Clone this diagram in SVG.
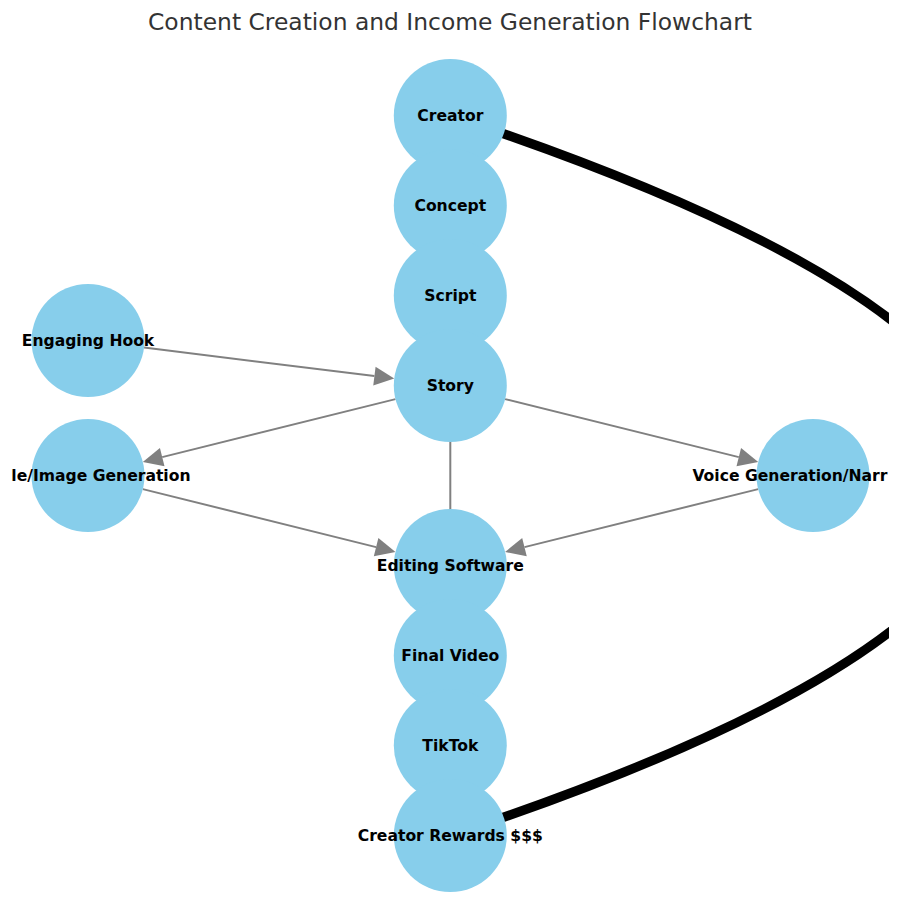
<svg xmlns="http://www.w3.org/2000/svg" width="900" height="923" viewBox="0 0 900 923">
<style>
.node circle{fill:#87CEEB}
.node text{font-family:"DejaVu Sans",Verdana,sans-serif;font-weight:bold;font-size:15.6px;fill:#000;text-anchor:middle}
.edge{stroke:#808080;stroke-width:2;fill:none}
.title{font-family:"DejaVu Sans",Verdana,sans-serif;font-size:23.4px;fill:#333;text-anchor:middle}
</style>
<defs>
<clipPath id="axes"><rect x="11" y="0" width="878" height="923"/></clipPath>
<marker id="arrow" markerUnits="userSpaceOnUse" markerWidth="20" markerHeight="19" refX="0" refY="9.5" orient="auto" overflow="visible">
<path d="M0,0 L20,9.5 L0,19 Z" fill="#808080"/>
</marker>
</defs>
<rect width="900" height="923" fill="#fff"/>
<text class="title" x="450" y="29.5">Content Creation and Income Generation Flowchart</text>
<g id="connectors">
<path d="M450.3,115.5 Q1534,475.5 450.3,835.5" stroke="#000" stroke-width="9.5" fill="none" clip-path="url(#axes)"/>
<line class="edge" x1="144.1" y1="347.5" x2="374.4" y2="376.1" marker-end="url(#arrow)"/>
<line class="edge" x1="395.5" y1="399.1" x2="162.2" y2="457.1" marker-end="url(#arrow)"/>
<line class="edge" x1="142.8" y1="489.1" x2="376.1" y2="547.1" marker-end="url(#arrow)"/>
<line class="edge" x1="505.1" y1="399.1" x2="738.8" y2="457.1" marker-end="url(#arrow)"/>
<line class="edge" x1="758.2" y1="489.1" x2="524.5" y2="547.1" marker-end="url(#arrow)"/>
<line class="edge" x1="450.3" y1="440" x2="450.3" y2="511"/>
</g>
<g id="node-creator" class="node"><circle cx="450.3" cy="115.5" r="56.5"/><text x="450.3" y="120.5">Creator</text></g>
<g id="node-concept" class="node"><circle cx="450.3" cy="205.5" r="56.5"/><text x="450.3" y="210.5">Concept</text></g>
<g id="node-script" class="node"><circle cx="450.3" cy="295.5" r="56.5"/><text x="450.3" y="300.5">Script</text></g>
<g id="node-story" class="node"><circle cx="450.3" cy="385.5" r="56.5"/><text x="450.3" y="390.5">Story</text></g>
<g id="node-hook" class="node"><circle cx="88" cy="340.5" r="56.5"/><text x="88" y="345.5">Engaging Hook</text></g>
<g id="node-image" class="node"><circle cx="88" cy="475.5" r="56.5"/><text x="11.3" y="480.5" style="text-anchor:start" clip-path="url(#axes)">le/Image Generation</text></g>
<g id="node-voice" class="node"><circle cx="813" cy="475.5" r="56.5"/><text x="692.4" y="480.5" style="text-anchor:start" clip-path="url(#axes)">Voice Generation/Narr</text></g>
<g id="node-editing" class="node"><circle cx="450.3" cy="565.5" r="56.5"/><text x="450.3" y="570.5">Editing Software</text></g>
<g id="node-final" class="node"><circle cx="450.3" cy="655.5" r="56.5"/><text x="450.3" y="660.5">Final Video</text></g>
<g id="node-tiktok" class="node"><circle cx="450.3" cy="745.5" r="56.5"/><text x="450.3" y="750.5">TikTok</text></g>
<g id="node-rewards" class="node"><circle cx="450.3" cy="835.5" r="56.5"/><text x="450.3" y="840.5">Creator Rewards $$$</text></g>
</svg>
